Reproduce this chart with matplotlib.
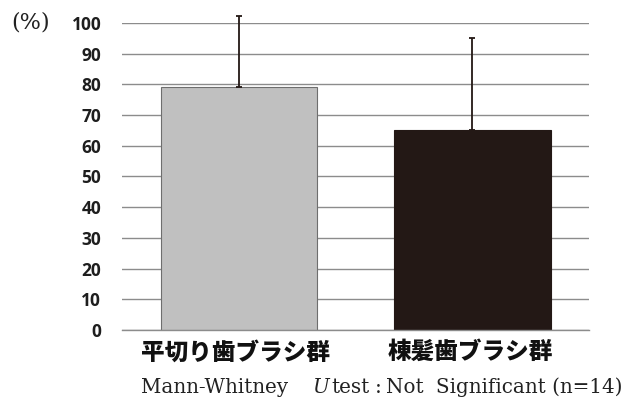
import matplotlib.pyplot as plt

groups = ['平切り歯ブラシ群', '棟髪歯ブラシ群']
means = [79.2, 65.0]
sd_upper = [23.1, 30.2]
yticks = [0, 10, 20, 30, 40, 50, 60, 70, 80, 90, 100]

# footnote pieces and their left edges in pixels
note_parts = [('Mann-Whitney', 141, 'normal'),
              ('U', 312, 'italic'),
              ('test', 331, 'normal'),
              (':', 375, 'normal'),
              ('Not', 386, 'normal'),
              ('Significant (n=14)', 436, 'normal')]

W, H = 626, 401
fig = plt.figure(figsize=(W / 100, H / 100), dpi=100)
ax = fig.add_axes([0.195, 0.177, 0.746, 0.766])

x = range(len(groups))
ax.bar(x, means, width=0.67, color=['#c0c0c0', '#231815'],
       edgecolor=['#6e6e6e', '#231815'], linewidth=0.8, zorder=2)
ax.errorbar(x, means, yerr=[[0, 0], sd_upper], fmt='none', ecolor='#231815',
            elinewidth=1.3, capsize=2.5, capthick=1.3, clip_on=False, zorder=3)

ax.set_xlim(-0.5, 1.5)
ax.set_ylim(0, 100)
ax.set_yticks(yticks)
ax.set_yticklabels([str(t) for t in yticks], fontsize=12.5, fontweight='bold',
                   family='Open Sans', color='#1e1e1e')
ax.tick_params(axis='y', length=0, pad=15)
ax.set_xticks([])
ax.grid(axis='y', color='#8c8c8c', linewidth=1.0, zorder=0)
for s in ['left', 'right', 'top']:
    ax.spines[s].set_visible(False)
ax.spines['bottom'].set_color('#8c8c8c')
ax.spines['bottom'].set_linewidth(1.0)

fig.text(11 / W, 1 - 23 / H, '(%)', fontsize=16, family='DejaVu Serif',
         va='center', ha='left', color='#222222')

for px, name in zip([235, 470], groups):
    fig.text(px / W, 1 - 352 / H, name, fontsize=17, fontweight='heavy',
             family=['Noto Sans CJK JP', 'DejaVu Sans'], ha='center',
             va='center', color='#111111')

for txt, px, style in note_parts:
    fig.text(px / W, 1 - 393 / H, txt, fontsize=14.3, style=style,
             family='DejaVu Serif', ha='left', va='baseline', color='#222222')

fig.savefig('out.png', dpi=100)
